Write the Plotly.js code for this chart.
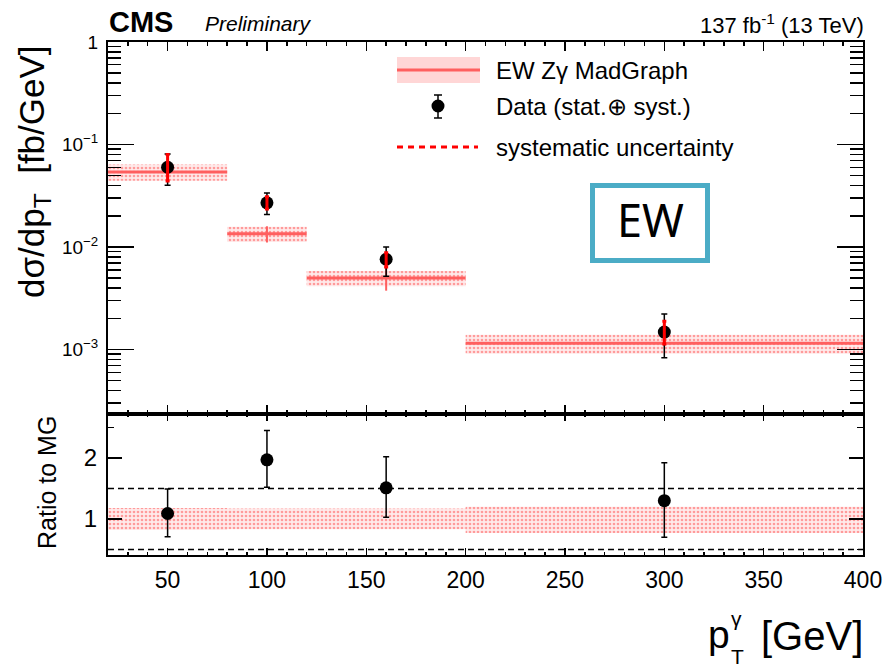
<!DOCTYPE html>
<html>
<head>
<meta charset="utf-8">
<script src="https://cdn.plot.ly/plotly-3.0.1.min.js"></script>
<style>
  html, body { margin: 0; padding: 0; background: #fff; }
  #plot { width: 889px; height: 668px; }
</style>
</head>
<body>
<div id="plot"></div>
<script>
// Photon pT bins of the differential EW Z-gamma cross section
const binLo = [20, 80, 120, 200];
const binHi = [80, 120, 200, 400];
const binCenter = [50, 100, 160, 300];

// MadGraph prediction (fb/GeV), band half-width (relative) and MC stat (relative)
const mgXsec = [0.054, 0.0135, 0.0050, 0.00115];
const mgBandRel = [0.18, 0.17, 0.17, 0.21];
const mgStatRel = [0.06, 0.18, 0.25, 0.06];

// Measured cross section with total (stat+syst) and systematic uncertainties
const dataXsec = [0.060, 0.027, 0.0076, 0.00148];
const dataErrUp = [0.021, 0.0066, 0.0024, 0.00074];
const dataErrDn = [0.020, 0.0062, 0.0024, 0.00065];
const systUp = [0.020, 0.0040, 0.0012, 0.00041];
const systDn = [0.016, 0.0035, 0.0012, 0.00035];

// Ratio of data to MadGraph
const ratio = [1.09, 1.97, 1.51, 1.30];
const ratioErrUp = [0.40, 0.48, 0.51, 0.62];
const ratioErrDn = [0.38, 0.45, 0.48, 0.60];
const ratioBandUp = [0.18, 0.17, 0.17, 0.20];
const ratioBandDn = [0.18, 0.17, 0.17, 0.23];
const ratioRefLines = [0.5, 1.5];

// Axis labels
const xTickVals = [50, 100, 150, 200, 250, 300, 350, 400];
const yTopTickVals = [1e-3, 1e-2, 1e-1, 1];
const yTopTickText = ['10<sup>\u22123</sup>', '10<sup>\u22122</sup>', '10<sup>\u22121</sup>', '1'];
const yBotTickVals = [1, 2];

const FONT = 'Liberation Sans, Arial, sans-serif';
const BAND_FILL = 'rgba(255,120,120,0.30)';
const BAND_PATTERN = {shape: '.', fgcolor: 'rgba(255,90,90,0.55)', bgcolor: 'rgba(255,170,170,0.25)', size: 4, solidity: 0.35};
const MG_LINE = 'rgb(255,95,95)';

// Frame geometry (pixels) for placing decorations
const L = 108, R = 863, T = 42, B = 555, SPLIT = 414;
const W = 889, H = 668;
const px = x => (x - L) / (R - L);
const py = y => (B - y) / (B - T);

const traces = [];

// MadGraph uncertainty band, top panel
binLo.forEach((lo, i) => {
  const hi = binHi[i];
  const up = mgXsec[i] * (1 + mgBandRel[i]);
  const dn = mgXsec[i] * (1 - mgBandRel[i]);
  traces.push({
    x: [lo, hi, hi, lo, lo], y: [dn, dn, up, up, dn],
    xaxis: 'x', yaxis: 'y', mode: 'lines', fill: 'toself',
    fillcolor: BAND_FILL, fillpattern: BAND_PATTERN,
    line: {width: 0}, hoverinfo: 'skip', showlegend: false
  });
});

// MadGraph central value per bin
const mgX = [], mgY = [];
binLo.forEach((lo, i) => { mgX.push(lo, binHi[i], null); mgY.push(mgXsec[i], mgXsec[i], null); });
traces.push({x: mgX, y: mgY, xaxis: 'x', yaxis: 'y', mode: 'lines',
  line: {color: MG_LINE, width: 3}, showlegend: false, hoverinfo: 'skip'});

// MadGraph statistical error bars
traces.push({
  x: binCenter, y: mgXsec, xaxis: 'x', yaxis: 'y', mode: 'markers',
  marker: {size: 1, color: 'rgba(0,0,0,0)'},
  error_y: {type: 'data', symmetric: true, array: mgXsec.map((v, i) => v * mgStatRel[i]),
    color: MG_LINE, thickness: 2, width: 0},
  showlegend: false, hoverinfo: 'skip'
});

// Data points with total uncertainty
traces.push({
  x: binCenter, y: dataXsec, xaxis: 'x', yaxis: 'y', mode: 'markers',
  marker: {size: 13, color: 'black'},
  error_y: {type: 'data', symmetric: false, array: dataErrUp, arrayminus: dataErrDn,
    color: 'black', thickness: 1.5, width: 3},
  showlegend: false
});

// Systematic part drawn on top in red
traces.push({
  x: binCenter, y: dataXsec, xaxis: 'x', yaxis: 'y', mode: 'markers',
  marker: {size: 1, color: 'rgba(0,0,0,0)'},
  error_y: {type: 'data', symmetric: false, array: systUp, arrayminus: systDn,
    color: 'red', thickness: 3, width: 2},
  showlegend: false, hoverinfo: 'skip'
});

// Ratio panel band
binLo.forEach((lo, i) => {
  const hi = binHi[i];
  const up = 1 + ratioBandUp[i];
  const dn = 1 - ratioBandDn[i];
  traces.push({
    x: [lo, hi, hi, lo, lo], y: [dn, dn, up, up, dn],
    xaxis: 'x2', yaxis: 'y2', mode: 'lines', fill: 'toself',
    fillcolor: BAND_FILL, fillpattern: BAND_PATTERN,
    line: {width: 0}, hoverinfo: 'skip', showlegend: false
  });
});

// Ratio points
traces.push({
  x: binCenter, y: ratio, xaxis: 'x2', yaxis: 'y2', mode: 'markers',
  marker: {size: 13, color: 'black'},
  error_y: {type: 'data', symmetric: false, array: ratioErrUp, arrayminus: ratioErrDn,
    color: 'black', thickness: 1.5, width: 3},
  showlegend: false
});

// Minor tick positions on the log axis
const yTopMinor = [];
for (let e = -4; e <= -1; e++) for (let m = 2; m <= 9; m++) yTopMinor.push(m * Math.pow(10, e));

const splitFrac = py(SPLIT);

const axisCommon = {
  showgrid: false, zeroline: false, showline: true, linecolor: 'black', linewidth: 2,
  mirror: 'ticks', ticks: 'inside', tickcolor: 'black', tickwidth: 1.5
};

const shapes = [];
// Reference lines in the ratio panel
ratioRefLines.forEach(v => shapes.push({
  type: 'line', xref: 'x2 domain', yref: 'y2', x0: 0, x1: 1, y0: v, y1: v,
  line: {color: 'black', width: 1.5, dash: '6px,4px'}
}));

// Legend symbols
shapes.push({type: 'rect', xref: 'paper', yref: 'paper', x0: px(397), x1: px(480), y0: py(83), y1: py(57),
  fillcolor: BAND_FILL, line: {width: 0}});
shapes.push({type: 'line', xref: 'paper', yref: 'paper', x0: px(397), x1: px(480), y0: py(70), y1: py(70),
  line: {color: MG_LINE, width: 3}});
shapes.push({type: 'line', xref: 'paper', yref: 'paper', x0: px(438), x1: px(438), y0: py(95), y1: py(118),
  line: {color: 'black', width: 1.5}});
shapes.push({type: 'line', xref: 'paper', yref: 'paper', x0: px(434), x1: px(442), y0: py(95), y1: py(95),
  line: {color: 'black', width: 1.5}});
shapes.push({type: 'line', xref: 'paper', yref: 'paper', x0: px(434), x1: px(442), y0: py(118), y1: py(118),
  line: {color: 'black', width: 1.5}});
shapes.push({type: 'circle', xref: 'paper', yref: 'paper', x0: px(431.5), x1: px(444.5), y0: py(112.5), y1: py(99.5),
  fillcolor: 'black', line: {width: 0}});
shapes.push({type: 'line', xref: 'paper', yref: 'paper', x0: px(397), x1: px(478), y0: py(147), y1: py(147),
  line: {color: 'red', width: 3, dash: '6px,5px'}});

// Label box
shapes.push({type: 'rect', xref: 'paper', yref: 'paper', x0: px(592.5), x1: px(707.5), y0: py(260.5), y1: py(185.5),
  line: {color: '#4bacc6', width: 5}, fillcolor: 'rgba(0,0,0,0)'});

const ann = (text, x, y, opts) => Object.assign({
  text, x: px(x), y: py(y), xref: 'paper', yref: 'paper', showarrow: false,
  xanchor: 'left', yanchor: 'middle', font: {family: FONT, size: 24, color: 'black'}
}, opts || {});

const annotations = [
  ann('<b>CMS</b>', 107, 22, {font: {family: FONT, size: 29, color: 'black'}}),
  ann('<i>Preliminary</i>', 203, 24, {font: {family: FONT, size: 21, color: 'black'}}),
  ann('137 fb<sup>-1</sup> (13 TeV)', 866, 24, {xanchor: 'right', font: {family: FONT, size: 22, color: 'black'}}),
  ann('EW Z\u03b3 MadGraph', 494, 70),
  ann('Data (stat.\u2295 syst.)', 494, 106),
  ann('systematic uncertainty', 494, 147),
  ann('EW', 650, 219, {xanchor: 'center', font: {family: 'Noto Sans, sans-serif', size: 45, color: 'black'}}),
  ann('d\u03c3/dp<sub>T</sub>  [fb/GeV]', 34, 172, {xanchor: 'center', textangle: -90,
    font: {family: FONT, size: 35, color: 'black'}}),
  ann('Ratio to MG', 47, 483, {xanchor: 'center', textangle: -90,
    font: {family: FONT, size: 25, color: 'black'}}),
  ann('p', 706, 634, {font: {family: FONT, size: 39, color: 'black'}}),
  ann('\u03b3', 729, 618, {font: {family: FONT, size: 21, color: 'black'}}),
  ann('T', 729, 657, {font: {family: FONT, size: 21, color: 'black'}}),
  ann('[GeV]', 865, 636, {xanchor: 'right', font: {family: FONT, size: 40, color: 'black'}})
];

const layout = {
  width: W, height: H,
  margin: {l: L, r: W - R, t: T, b: H - B, pad: 0},
  paper_bgcolor: 'white', plot_bgcolor: 'white',
  showlegend: false,
  font: {family: FONT, color: 'black'},
  xaxis: Object.assign({}, axisCommon, {
    domain: [0, 1], anchor: 'y', range: [20, 400], tickvals: xTickVals,
    showticklabels: false, ticklen: 9,
    minor: {dtick: 10, tick0: 0, ticks: 'inside', ticklen: 4, tickcolor: 'black', tickwidth: 1.5}
  }),
  yaxis: Object.assign({}, axisCommon, {
    domain: [splitFrac, 1], anchor: 'x', type: 'log',
    range: [Math.log10(2.35e-4), 0],
    tickvals: yTopTickVals, ticktext: yTopTickText, ticklen: 26,
    tickfont: {family: FONT, size: 19, color: 'black'}, ticklabelstandoff: 4,
    minor: {tickvals: yTopMinor, ticks: 'inside', ticklen: 13, tickcolor: 'black', tickwidth: 1.5}
  }),
  xaxis2: Object.assign({}, axisCommon, {
    domain: [0, 1], anchor: 'y2', range: [20, 400], tickvals: xTickVals,
    ticklen: 7, tickfont: {family: FONT, size: 23, color: 'black'}, ticklabelstandoff: 3,
    minor: {dtick: 10, tick0: 0, ticks: 'inside', ticklen: 3, tickcolor: 'black', tickwidth: 1.5}
  }),
  yaxis2: Object.assign({}, axisCommon, {
    domain: [0, splitFrac], anchor: 'x2', range: [0.41, 2.72],
    tickvals: yBotTickVals, ticklen: 14,
    tickfont: {family: FONT, size: 24, color: 'black'}, ticklabelstandoff: 4,
    minor: {tickvals: [0.5, 1.5, 2.5], ticks: 'inside', ticklen: 6, tickcolor: 'black', tickwidth: 1.5}
  }),
  shapes, annotations
};

Plotly.newPlot('plot', traces, layout, {displayModeBar: false, staticPlot: true});
</script>
</body>
</html>
